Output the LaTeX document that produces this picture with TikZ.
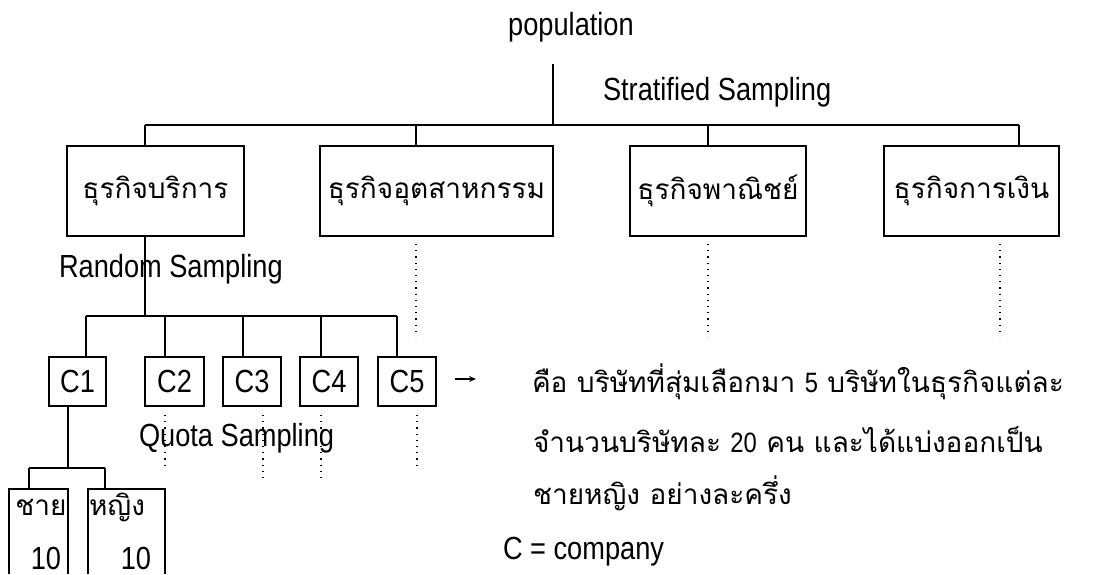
\documentclass[tikz,border=0pt]{standalone}
\usepackage{fontspec}
\setmainfont{Liberation Sans}[FakeStretch=0.85]
\newfontfamily\thaifont[Script=Thai]{Loma}
\usetikzlibrary{arrows.meta}
\newcommand{\lowtext}[1]{\raisebox{-6pt}{#1}}
\begin{document}
\begin{tikzpicture}[x=1pt,y=-1pt,
  every node/.style={inner sep=0pt,outer sep=0pt},
  lbl/.style={font=\fontsize{32}{36}\selectfont},
  thai/.style={font=\thaifont\fontsize{28}{32}\selectfont},
  bigbox/.style={draw,line width=1.4pt,minimum height=90pt,thai},
  cbox/.style={draw,line width=1.4pt,minimum height=49pt,lbl},
  conn/.style={line width=1.4pt},
  dots/.style={line width=1.2pt,dash pattern=on 1.2pt off 5pt}]
\useasboundingbox (0,0) rectangle (1104,574);
% population
\node[lbl] (pop) at (571,27) {population};
\coordinate (p0) at (553,64);
\coordinate (j0) at (553,125);
\draw[conn] (p0) -- (j0);
\node[lbl,anchor=west] (strat) at (603,92) {Stratified Sampling};
% level 1 boxes
\node[bigbox,minimum width=177pt] (b1) at (155.5,191) {\lowtext{ธุรกิจบริการ}};
\node[bigbox,minimum width=233pt] (b2) at (436.5,191) {\lowtext{ธุรกิจอุตสาหกรรม}};
\node[bigbox,minimum width=176pt] (b3) at (718,191) {\lowtext{ธุรกิจพาณิชย์}};
\node[bigbox,minimum width=175pt] (b4) at (971.5,191) {\lowtext{ธุรกิจการเงิน}};
\coordinate (t1) at (145,125);
\coordinate (t2) at (416,125);
\coordinate (t3) at (708,125);
\coordinate (t4) at (1019,125);
\draw[conn] (t1) -- (t4);
\draw[conn] (t1) -- (t1 |- b1.north);
\draw[conn] (t2) -- (t2 |- b2.north);
\draw[conn] (t3) -- (t3 |- b3.north);
\draw[conn] (t4) -- (t4 |- b4.north);
% dotted continuations
\coordinate (d2a) at (416,244); \coordinate (d2b) at (416,337);
\coordinate (d3a) at (708,244); \coordinate (d3b) at (708,337);
\coordinate (d4a) at (1000,244); \coordinate (d4b) at (1000,337);
\draw[dots] (d2a) -- (d2b);
\draw[dots] (d3a) -- (d3b);
\draw[dots] (d4a) -- (d4b);
% random sampling
\node[lbl,anchor=west] (rand) at (59,269) {Random Sampling};
\coordinate (j1) at (145,316);
\draw[conn] (b1.south -| j1) -- (j1);
\node[cbox,minimum width=57pt] (c1) at (77.5,381.5) {C1};
\node[cbox,minimum width=59pt] (c2) at (174.5,381.5) {C2};
\node[cbox,minimum width=58pt] (c3) at (252,381.5) {C3};
\node[cbox,minimum width=58pt] (c4) at (329,381.5) {C4};
\node[cbox,minimum width=58pt] (c5) at (407,381.5) {C5};
\coordinate (u1) at (86,316);
\coordinate (u2) at (165,316);
\coordinate (u3) at (243,316);
\coordinate (u4) at (321,316);
\coordinate (u5) at (397,316);
\draw[conn] (u1) -- (u5);
\draw[conn] (u1) -- (u1 |- c1.north);
\draw[conn] (u2) -- (u2 |- c2.north);
\draw[conn] (u3) -- (u3 |- c3.north);
\draw[conn] (u4) -- (u4 |- c4.north);
\draw[conn] (u5) -- (u5 |- c5.north);
% dotted under C boxes
\coordinate (e2a) at (165,415); \coordinate (e2b) at (165,466);
\coordinate (e3a) at (263,415); \coordinate (e3b) at (263,482);
\coordinate (e4a) at (321,415); \coordinate (e4b) at (321,482);
\coordinate (e5a) at (417,415); \coordinate (e5b) at (417,466);
\draw[dots] (e2a) -- (e2b);
\draw[dots] (e3a) -- (e3b);
\draw[dots] (e4a) -- (e4b);
\draw[dots] (e5a) -- (e5b);
% arrow
\coordinate (a0) at (455,379);
\coordinate (a1) at (476,379);
\draw[line width=1.3pt,-{Stealth[length=7pt,width=6pt]}] (a0) -- (a1);
% quota sampling
\node[lbl,anchor=west] (quota) at (139,438) {Quota Sampling};
\coordinate (j2) at (68,468);
\draw[conn] (c1.south -| j2) -- (j2);
\node[minimum width=59pt,minimum height=85pt,anchor=north west] (m) at (9,489) {};
\node[minimum width=77pt,minimum height=85pt,anchor=north west] (f) at (88,489) {};
\draw[conn] (m.south west) -- (m.north west) -- (m.north east) -- (m.south east);
\draw[conn] (f.south west) -- (f.north west) -- (f.north east) -- (f.south east);
\coordinate (v1) at (29,468);
\coordinate (v2) at (105,468);
\draw[conn] (v1) -- (v2);
\draw[conn] (v1) -- (v1 |- m.north);
\draw[conn] (v2) -- (v2 |- f.north);
\node[thai] (mt) at (41,507) {ชาย};
\node[thai] (ft) at (117,507) {หญิง};
\node[lbl] (mn) at (46,558) {10};
\node[lbl] (fn) at (136,558) {10};
% explanation
\node[thai,anchor=west] (x1) at (532,382) {คือ บริษัทที่สุ่มเลือกมา {\rmfamily 5} บริษัทในธุรกิจแต่ละ};
\node[thai,anchor=west] (x2) at (533,440) {จำนวนบริษัทละ {\rmfamily 20} คน และได้แบ่งออกเป็น};
\node[thai,anchor=west] (x3) at (533,493) {ชายหญิง อย่างละครึ่ง};
\node[lbl,anchor=west] (x4) at (503,552) {C = company};
\end{tikzpicture}
\end{document}
